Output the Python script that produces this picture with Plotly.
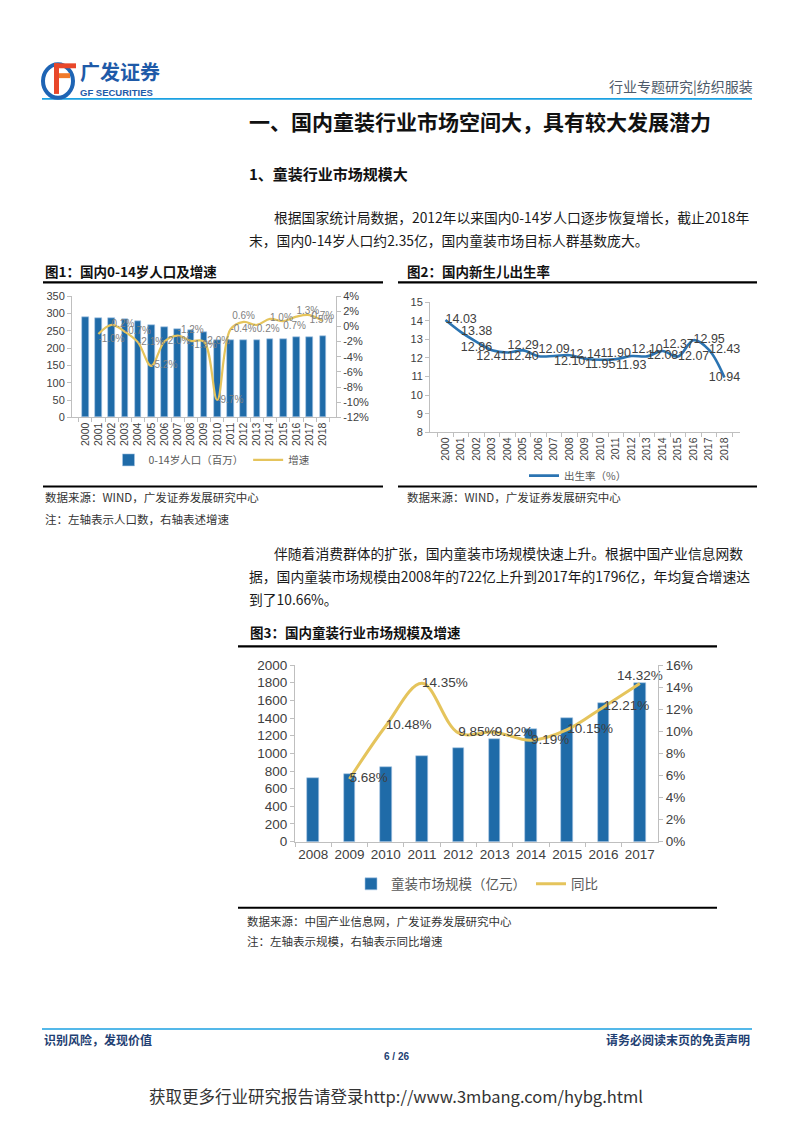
import plotly.graph_objects as go

PAGE_W, PAGE_H = 793, 1122
OFF = 8                      # default body margin of the html page
W, H = PAGE_W - 2 * OFF, PAGE_H - 2 * OFF

# ---------------- data ----------------
years1 = [str(y) for y in range(2000, 2019)]
pop_014 = [290, 287, 287, 285, 279, 265, 260, 256, 252, 247, 222, 222, 222, 223, 225, 227, 231, 233, 235]
pop_growth = [None, -1.0, 0.2, -0.7, -2.1, -5.2, -2.0, -1.2, -1.9, -2.0, -9.7, -0.4, 0.6, 0.2, 1.0, 0.7, 1.3, 1.5, 0.7]
pop_growth_ticks = [-12, -10, -8, -6, -4, -2, 0, 2, 4]
pop_growth_ticktext = ["-12%", "-10%", "-8%", "-6%", "-4%", "-2%", "0%", "2%", "4%"]

years2 = [str(y) for y in range(2000, 2019)]
birth_rate = [14.03, 13.38, 12.86, 12.41, 12.29, 12.40, 12.09, 12.10, 12.14, 11.95, 11.90, 11.93, 12.10, 12.08, 12.37, 12.07, 12.95, 12.43, 10.94]

years3 = [str(y) for y in range(2008, 2018)]
market_size = [722, 763, 843, 964, 1059, 1164, 1271, 1400, 1571, 1796]
market_yoy = [None, 5.68, 10.48, 14.35, 9.85, 9.92, 9.19, 10.15, 12.21, 14.32]
yoy_ticks = [0, 2, 4, 6, 8, 10, 12, 14, 16]
yoy_ticktext = ["0%", "2%", "4%", "6%", "8%", "10%", "12%", "14%", "16%"]

# ---------------- styles ----------------
BLUE = "#1F6BA8"
GOLD = "#E5C45C"
LINEBLUE = "#2B74B2"
AX = "#BFBFBF"
TXT = "#404040"
LAT = "Liberation Sans, Arial, sans-serif"
CJK = "Noto Sans CJK SC, sans-serif"


def px(x):
    return (x - OFF) / W


def py(y):
    return 1 - (y - OFF) / H


fig = go.Figure()

# ---------- Figure 1 ----------
pos1 = ["middle right", "bottom right", "middle right", "middle right", "middle right", "middle right",
        "middle right", "top right", "bottom right", "middle right", "middle right", "middle right",
        "top center", "bottom right", "middle right", "bottom right", "top right", "bottom right", "top center"]
fig.add_trace(go.Bar(x=years1, y=pop_014, name="0-14岁人口（百万）",
                     marker=dict(color=BLUE, line=dict(color="#A9C8E6", width=0.6)),
                     width=0.5, xaxis="x", yaxis="y", legend="legend"))
fig.add_trace(go.Scatter(x=years1, y=pop_growth, name="增速", mode="lines+text",
                         line=dict(color=GOLD, width=2.2, shape="spline"),
                         text=[("" if v is None else f"{v:.1f}%") for v in pop_growth], textposition=pos1,
                         textfont=dict(family=LAT, size=10, color="#7F7F7F"), cliponaxis=False,
                         xaxis="x", yaxis="y2", legend="legend"))

# ---------- Figure 2 ----------
pos2 = ["middle right", "middle right", "bottom center", "bottom center", "top right", "bottom center",
        "top right", "bottom right", "middle right", "bottom right", "top right", "bottom right",
        "top right", "middle right", "top right", "middle right", "middle right", "middle right", "middle center"]
fig.add_trace(go.Scatter(x=years2, y=birth_rate, name="出生率（%）", mode="lines+text",
                         line=dict(color=LINEBLUE, width=2.6, shape="spline"),
                         text=[f"{v:.2f}" for v in birth_rate], textposition=pos2,
                         textfont=dict(family=LAT, size=12.5, color=TXT), cliponaxis=False,
                         xaxis="x2", yaxis="y3", legend="legend2"))

# ---------- Figure 3 ----------
pos3 = ["middle right"] * 9 + ["top center"]
fig.add_trace(go.Bar(x=years3, y=market_size, name="童装市场规模（亿元）",
                     marker=dict(color=BLUE, line=dict(color="#A9C8E6", width=0.6)),
                     width=0.32, xaxis="x3", yaxis="y4", legend="legend3"))
fig.add_trace(go.Scatter(x=years3, y=market_yoy, name="同比", mode="lines+text",
                         line=dict(color=GOLD, width=3, shape="spline"),
                         text=[("" if v is None else f"{v:.2f}%") for v in market_yoy], textposition=pos3,
                         textfont=dict(family=LAT, size=13.5, color=TXT), cliponaxis=False,
                         xaxis="x3", yaxis="y5", legend="legend3"))

axis_common = dict(showgrid=False, zeroline=False, showline=True, linecolor=AX, linewidth=1,
                   ticks="outside", tickcolor=AX, ticklen=4)

fig.update_layout(
    width=W, height=H, margin=dict(l=0, r=0, t=0, b=0),
    paper_bgcolor="white", plot_bgcolor="white", bargap=0,
    # fig1
    xaxis=dict(domain=[px(72), px(336)], anchor="y", type="category", tickangle=-90,
               tickfont=dict(family=LAT, size=10.5, color=TXT), tickson="boundaries", **axis_common),
    yaxis=dict(domain=[py(416), py(293)], anchor="x", range=[0, 350], dtick=50,
               tickfont=dict(family=LAT, size=11, color=TXT), **axis_common),
    yaxis2=dict(overlaying="y", side="right", anchor="x", range=[-12, 4], tickvals=pop_growth_ticks,
                ticktext=pop_growth_ticktext, tickfont=dict(family=LAT, size=11, color=TXT), **axis_common),
    # fig2
    xaxis2=dict(domain=[px(430), px(740)], anchor="y3", type="category", tickangle=-90,
                tickfont=dict(family=LAT, size=10.5, color=TXT), tickson="boundaries", **axis_common),
    yaxis3=dict(domain=[py(431), py(299)], anchor="x2", range=[8, 15], dtick=1,
                tickfont=dict(family=LAT, size=11, color=TXT), **axis_common),
    # fig3
    xaxis3=dict(domain=[px(295), px(658)], anchor="y4", type="category", tickangle=0,
                tickfont=dict(family=LAT, size=13.5, color=TXT), tickson="boundaries", **axis_common),
    yaxis4=dict(domain=[py(846), py(667)], anchor="x3", range=[0, 2000], dtick=200,
                tickfont=dict(family=LAT, size=13.5, color=TXT), **axis_common),
    yaxis5=dict(overlaying="y4", side="right", anchor="x3", range=[0, 16], tickvals=yoy_ticks,
                ticktext=yoy_ticktext, tickfont=dict(family=LAT, size=13.5, color=TXT), **axis_common),
    legend=dict(x=px(212), y=py(459), xanchor="center", yanchor="middle", orientation="h",
                font=dict(family=CJK, size=10.5, color="#595959"), bgcolor="rgba(0,0,0,0)"),
    legend2=dict(x=px(578), y=py(475), xanchor="center", yanchor="middle", orientation="h",
                 font=dict(family=CJK, size=10.5, color="#595959"), bgcolor="rgba(0,0,0,0)"),
    legend3=dict(x=px(477), y=py(889), xanchor="center", yanchor="middle", orientation="h",
                 font=dict(family=CJK, size=13.5, color="#595959"), bgcolor="rgba(0,0,0,0)"),
    showlegend=True,
)

shapes = []
annotations = []


def hline(x0, x1, y, color, width):
    shapes.append(dict(type="line", xref="paper", yref="paper", x0=px(x0), x1=px(x1), y0=py(y), y1=py(y),
                       line=dict(color=color, width=width)))


def text(x, y, s, size, color="#1a1a1a", anchor="left", bold=False, family=CJK):
    if bold:
        s = f"<b>{s}</b>"
    annotations.append(dict(x=px(x), y=py(y), xref="paper", yref="paper", text=s, showarrow=False,
                            xanchor=anchor, yanchor="middle", font=dict(family=family, size=size, color=color)))


# header
hline(42, 752, 93, "#1BA1E2", 1.6)
text(755, 80, "行业专题研究|纺织服装", 14, color="#4D5A6A", anchor="right")
# logo
shapes.append(dict(type="circle", xref="paper", yref="paper", x0=px(43), x1=px(73), y0=py(92), y1=py(58),
                   line=dict(color="#1E64B4", width=4)))
shapes.append(dict(type="rect", xref="paper", yref="paper", x0=px(54), x1=px(76), y0=py(62), y1=py(57),
                   fillcolor="#E8472A", line=dict(width=0)))
shapes.append(dict(type="rect", xref="paper", yref="paper", x0=px(54), x1=px(70), y0=py(72), y1=py(67),
                   fillcolor="#F07A2A", line=dict(width=0)))
shapes.append(dict(type="rect", xref="paper", yref="paper", x0=px(54), x1=px(59), y0=py(88), y1=py(57),
                   fillcolor="#E8472A", line=dict(width=0)))
text(78, 65, "广发证券", 20, color="#1E5AA8", bold=True)
text(78, 87, "GF SECURITIES", 9.5, color="#1E5AA8", bold=True, family=LAT)

# headings
text(247, 115, "一、国内童装行业市场空间大，具有较大发展潜力", 21, color="#111111", bold=True)
text(247, 169, "1、童装行业市场规模大", 15, color="#111111", bold=True)
text(272, 213, "根据国家统计局数据，2012年以来国内0-14岁人口逐步恢复增长，截止2018年", 13.8)
text(247, 236, "末，国内0-14岁人口约2.35亿，国内童装市场目标人群基数庞大。", 13.8)

# fig titles & rules
text(43, 268, "图1：国内0-14岁人口及增速", 13.5, color="#111111", bold=True)
hline(43, 383, 279, "#000000", 2.2)
hline(43, 383, 486, "#000000", 2.2)
text(43, 497, "数据来源：WIND，广发证券发展研究中心", 11.5, color="#333333")
text(43, 519, "注：左轴表示人口数，右轴表述增速", 11.5, color="#333333")

text(405, 268, "图2：国内新生儿出生率", 13.5, color="#111111", bold=True)
hline(398, 757, 279, "#000000", 2.2)
hline(398, 757, 486, "#000000", 2.2)
text(405, 497, "数据来源：WIND，广发证券发展研究中心", 11.5, color="#333333")

text(272, 553, "伴随着消费群体的扩张，国内童装市场规模快速上升。根据中国产业信息网数", 13.8)
text(247, 577, "据，国内童装市场规模由2008年的722亿上升到2017年的1796亿，年均复合增速达", 13.8)
text(247, 600, "到了10.66%。", 13.8)

text(248, 633, "图3：国内童装行业市场规模及增速", 13.5, color="#111111", bold=True)
hline(238, 717, 648, "#000000", 2.2)
hline(238, 717, 913, "#000000", 2.2)
text(245, 926, "数据来源：中国产业信息网，广发证券发展研究中心", 11.5, color="#333333")
text(245, 947, "注：左轴表示规模，右轴表示同比增速", 11.5, color="#333333")

# footer
hline(42, 752, 1036, "#1BA1E2", 1.6)
text(42, 1047, "识别风险，发现价值", 12, color="#1F3F73", bold=True)
text(752, 1047, "请务必阅读末页的免责声明", 12, color="#1F3F73", anchor="right", bold=True)
text(397, 1064, "6 / 26", 10, color="#1F3F73", anchor="center", bold=True, family=LAT)
text(396, 1104, "获取更多行业研究报告请登录http://www.3mbang.com/hybg.html", 16.5, color="#333333", anchor="center")

fig.update_layout(shapes=shapes, annotations=annotations)
fig.write_html("out.html")
